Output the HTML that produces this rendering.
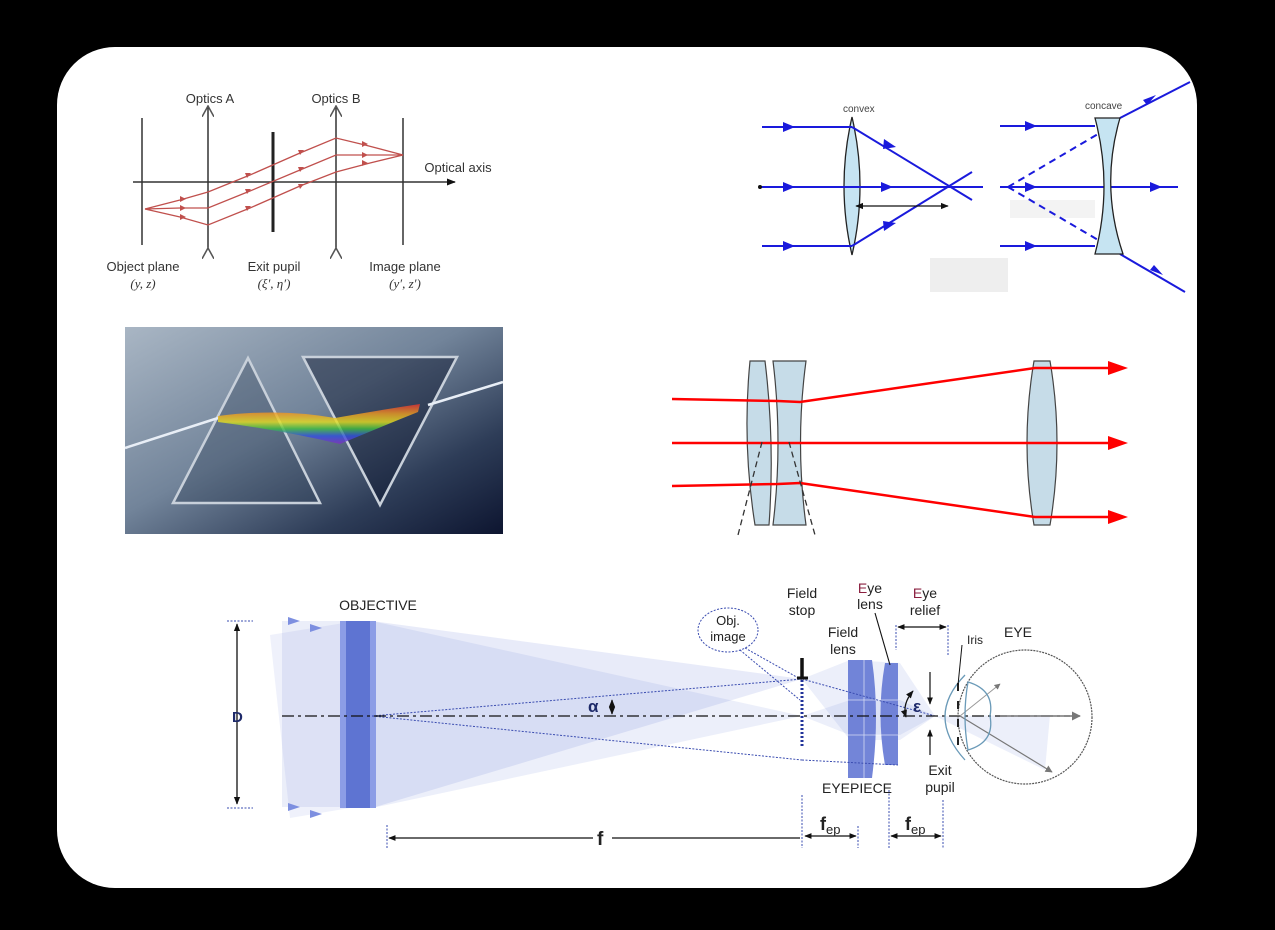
<!DOCTYPE html>
<html><head><meta charset="utf-8"><style>
html,body{margin:0;padding:0;background:#000;}
svg{display:block;font-family:"Liberation Sans",Arial,sans-serif;}
</style></head><body>
<svg width="1275" height="930" viewBox="0 0 1275 930" xmlns="http://www.w3.org/2000/svg">
<defs>
<marker id="bk" viewBox="0 0 10 10" refX="9" refY="5" markerWidth="6" markerHeight="6" orient="auto-start-reverse"><path d="M0,1 L10,5 L0,9z" fill="#111"/></marker>
<marker id="open" viewBox="0 0 10 10" refX="9" refY="5" markerWidth="8" markerHeight="8" orient="auto"><path d="M0,0 L9,5 L0,10" fill="none" stroke="#555" stroke-width="1.3"/></marker>
<marker id="gr" viewBox="0 0 10 10" refX="9" refY="5" markerWidth="6" markerHeight="6" orient="auto"><path d="M0,0 L10,5 L0,10z" fill="#777"/></marker>
<linearGradient id="pbg" x1="0" y1="0" x2="1" y2="1"><stop offset="0" stop-color="#a9b6c4"/><stop offset="0.45" stop-color="#72849a"/><stop offset="0.75" stop-color="#2e3d58"/><stop offset="1" stop-color="#0d1530"/></linearGradient>
<linearGradient id="rb" x1="0" y1="0" x2="0" y2="1"><stop offset="0" stop-color="#e53030"/><stop offset="0.25" stop-color="#f0a020"/><stop offset="0.45" stop-color="#e8e020"/><stop offset="0.62" stop-color="#40c040"/><stop offset="0.8" stop-color="#3050e0"/><stop offset="1" stop-color="#8030c0"/></linearGradient>
</defs>
<rect x="0" y="0" width="1275" height="930" fill="#000"/>
<rect x="57" y="47" width="1140" height="841" rx="58" fill="#fff"/>

<!-- Panel 1 -->
<g stroke="#333" stroke-width="1.5" fill="none">
<line x1="133" y1="182" x2="455" y2="182" marker-end="url(#bk)"/>
<line x1="142" y1="118" x2="142" y2="245"/>
<line x1="403" y1="118" x2="403" y2="245"/>
<line x1="208" y1="248" x2="208" y2="106" marker-end="url(#open)" marker-start="url(#open)"/>
<line x1="336" y1="248" x2="336" y2="106" marker-end="url(#open)" marker-start="url(#open)"/>
<line x1="273" y1="132" x2="273" y2="232" stroke-width="3" stroke="#222"/>
</g>
<g stroke="#c0504d" stroke-width="1.3" fill="none">
<polyline points="145,209 180,200 208,192 250,175 300,153 336,138 365,145 403,155" />
<polyline points="145,209 180,208 208,208 250,191 300,170 336,155 370,155 403,155"/>
<polyline points="145,209 180,217 208,225 250,208 300,186 336,172 370,163 403,155"/>
</g>
<g fill="#c0504d">
<path d="M180,196 l6,3 -6,3z"/><path d="M180,205 l6,3 -6,3z"/><path d="M180,214 l6,3 -6,3z"/>
<path d="M245,173 l6,0 -4,5z"/><path d="M245,189 l6,0 -4,5z"/><path d="M245,206 l6,0 -4,5z"/>
<path d="M298,150 l6,0 -4,5z"/><path d="M298,167 l6,0 -4,5z"/><path d="M298,184 l6,0 -4,5z"/>
<path d="M362,141 l6,3 -6,3z"/><path d="M362,152 l6,3 -6,3z"/><path d="M362,160 l6,3 -6,3z"/>
</g>
<g font-size="13" fill="#333" text-anchor="middle">
<text x="210" y="103">Optics A</text><text x="336" y="103">Optics B</text>
<text x="143" y="271">Object plane</text><text x="143" y="288" font-family="Liberation Serif" font-style="italic">(y, z)</text>
<text x="274" y="271">Exit pupil</text><text x="274" y="288" font-family="Liberation Serif" font-style="italic">(ξ′, η′)</text>
<text x="405" y="271">Image plane</text><text x="405" y="288" font-family="Liberation Serif" font-style="italic">(y′, z′)</text>
<text x="458" y="172">Optical axis</text>
</g>

<!-- Panel 2 -->
<rect x="930" y="258" width="78" height="34" fill="#eee"/>
<rect x="1010" y="200" width="85" height="18" fill="#f3f3f3"/>
<path d="M852,117 Q836,186 852,255 Q868,186 852,117z" fill="#c6e4f2" stroke="#222" stroke-width="1.3"/>
<g stroke="#1a1adc" stroke-width="2" fill="none">
<line x1="762" y1="127" x2="852" y2="127"/><line x1="852" y1="127" x2="972" y2="200"/>
<line x1="760" y1="187" x2="983" y2="187"/>
<line x1="762" y1="246" x2="852" y2="246"/><line x1="852" y1="246" x2="972" y2="172"/>
<line x1="1000" y1="126" x2="1095" y2="126"/><line x1="1120" y1="118" x2="1190" y2="82"/>
<line x1="1000" y1="187" x2="1178" y2="187"/>
<line x1="1000" y1="246" x2="1095" y2="246"/><line x1="1120" y1="254" x2="1185" y2="292"/>
<line x1="1008" y1="187" x2="1115" y2="124" stroke-dasharray="7,5"/>
<line x1="1008" y1="187" x2="1110" y2="247" stroke-dasharray="7,5"/>
</g>
<g fill="#1a1adc">
<path d="M783,122 l12,5 -12,5z"/><path d="M783,182 l12,5 -12,5z"/><path d="M783,241 l12,5 -12,5z"/>
<path d="M881,182 l12,5 -12,5z"/><path d="M884,139 l12,8 -13,2z"/><path d="M884,231 l12,-8 -13,-2z"/>
<path d="M1025,121 l12,5 -12,5z"/><path d="M1025,182 l12,5 -12,5z"/><path d="M1025,241 l12,5 -12,5z"/>
<path d="M1150,182 l12,5 -12,5z"/><path d="M1143,100 l13,-5 -9,10z"/><path d="M1150,270 l13,5 -9,-10z"/>
</g>
<circle cx="760" cy="187" r="2" fill="#111"/>
<path d="M1095,118 L1120,118 Q1100,186 1123,254 L1095,254 Q1113,186 1095,118z" fill="#c6e4f2" stroke="#222" stroke-width="1.3"/>
<line x1="856" y1="206" x2="948" y2="206" stroke="#111" stroke-width="1.3" marker-end="url(#bk)" marker-start="url(#bk)"/>
<text x="843" y="112" font-size="10" fill="#444">convex</text>
<text x="1085" y="109" font-size="10" fill="#444">concave</text>

<!-- Panel 3 prism -->
<rect x="125" y="327" width="378" height="207" fill="url(#pbg)"/>
<path d="M248,358 L173,503 L320,503z" fill="rgba(40,55,80,0.3)" stroke="#c8d0da" stroke-width="2.5"/>
<path d="M303,357 L457,357 L380,505z" fill="rgba(10,20,45,0.45)" stroke="#c8d0da" stroke-width="2.5"/>
<line x1="125" y1="448" x2="218" y2="418" stroke="#e8eef6" stroke-width="2.5"/>
<line x1="428" y1="405" x2="503" y2="382" stroke="#e8eef6" stroke-width="2.5"/>
<path d="M218,416 Q280,408 335,418 Q380,410 420,404 L418,412 Q378,428 340,444 Q280,430 218,422z" fill="url(#rb)" opacity="0.8"/>

<!-- Panel 4 -->
<path d="M750,361 L765,361 Q775,443 769,525 L755,525 Q742,443 750,361z" fill="#c6dce8" stroke="#444" stroke-width="1.2"/>
<path d="M773,361 L806,361 Q795,443 806,525 L773,525 Q783,443 773,361z" fill="#c6dce8" stroke="#444" stroke-width="1.2"/>
<path d="M1034,361 L1050,361 Q1064,443 1050,525 L1034,525 Q1020,443 1034,361z" fill="#c6dce8" stroke="#444" stroke-width="1.2"/>
<g stroke="#f00" stroke-width="2.5" fill="none">
<polyline points="672,399 778,401 800,402 1035,368 1112,368"/>
<line x1="672" y1="443" x2="1112" y2="443"/>
<polyline points="672,486 778,484 800,483 1035,517 1112,517"/>
</g>
<g fill="#f00"><path d="M1108,361 l20,7 -20,7z"/><path d="M1108,436 l20,7 -20,7z"/><path d="M1108,510 l20,7 -20,7z"/></g>
<g stroke="#333" stroke-width="1.3" stroke-dasharray="6,4"><line x1="762" y1="442" x2="738" y2="535"/><line x1="789" y1="442" x2="815" y2="535"/></g>

<!-- Panel 5 telescope -->
<g fill="#6478d4">
<polygon points="282,621 355,621 355,807 282,807" opacity="0.13"/>
<polygon points="270,635 350,622 350,808 290,818" opacity="0.1"/>
<polygon points="372,621 372,808 802,679" opacity="0.15"/>
<polygon points="372,621 372,808 802,716" opacity="0.12"/>
<polygon points="802,679 850,660 900,663 935,716 900,740 850,740" opacity="0.12"/>
<polygon points="802,716 850,700 900,700 935,716 900,735 850,735" opacity="0.12"/>
<polygon points="935,716 1050,715 1045,770" opacity="0.12"/>
</g>
<g fill="#7d8fe0"><path d="M288,617 l12,4 -12,4z"/><path d="M310,624 l12,4 -12,4z"/><path d="M288,803 l12,4 -12,4z"/><path d="M310,810 l12,4 -12,4z"/></g>
<rect x="340" y="621" width="36" height="187" fill="#8c9de6"/>
<rect x="346" y="621" width="24" height="187" fill="#5e74d2"/>
<path d="M848,660 L872,660 Q880,715 872,778 L848,778z" fill="#6478d4" opacity="0.9"/>
<path d="M885,663 L898,663 L898,765 L885,765 Q876,714 885,663z" fill="#6478d4" opacity="0.9"/>
<g stroke="#fff" stroke-width="0.8" opacity="0.7"><line x1="864" y1="660" x2="864" y2="778"/><line x1="848" y1="700" x2="898" y2="700"/><line x1="848" y1="735" x2="898" y2="735"/></g>
<g stroke="#3a4cb0" stroke-width="1" stroke-dasharray="2,1.5" fill="none">
<line x1="372" y1="716" x2="802" y2="679"/><line x1="372" y1="716" x2="802" y2="760"/>
<line x1="802" y1="679" x2="935" y2="716"/><line x1="802" y1="760" x2="898" y2="765"/>
<line x1="227" y1="621" x2="253" y2="621"/><line x1="227" y1="808" x2="253" y2="808"/>
<line x1="387" y1="825" x2="387" y2="848"/><line x1="802" y1="795" x2="802" y2="848"/>
<line x1="858" y1="826" x2="858" y2="848"/><line x1="889" y1="790" x2="889" y2="848"/><line x1="943" y1="800" x2="943" y2="848"/>
<line x1="896" y1="625" x2="896" y2="650"/><line x1="948" y1="625" x2="948" y2="655"/>
<ellipse cx="728" cy="630" rx="30" ry="22"/>
<line x1="745" y1="648" x2="802" y2="680"/><line x1="740" y1="650" x2="800" y2="700"/>
</g>
<line x1="802" y1="680" x2="802" y2="748" stroke="#22339a" stroke-width="3" stroke-dasharray="2,2"/>
<line x1="802" y1="658" x2="802" y2="678" stroke="#111" stroke-width="3.5"/>
<line x1="797" y1="678" x2="808" y2="678" stroke="#111" stroke-width="3"/>
<line x1="282" y1="716" x2="1070" y2="716" stroke="#111" stroke-width="1.2" stroke-dasharray="12,4,3,4"/>
<line x1="1000" y1="716" x2="1080" y2="716" stroke="#777" stroke-width="1.5" marker-end="url(#gr)"/>
<line x1="960" y1="716" x2="1052" y2="772" stroke="#777" stroke-width="1.2" marker-end="url(#gr)"/>
<line x1="960" y1="716" x2="1000" y2="684" stroke="#999" stroke-width="1" marker-end="url(#gr)"/>
<circle cx="1025" cy="717" r="67" fill="none" stroke="#555" stroke-width="1.2" stroke-dasharray="2,1"/>
<path d="M965,675 Q925,716 965,760" fill="none" stroke="#6a9ab8" stroke-width="1.3"/>
<path d="M968,682 Q995,690 990,716 Q995,742 968,750 Q962,716 968,682z" fill="none" stroke="#6a9ab8" stroke-width="1.3"/>
<line x1="958" y1="683" x2="958" y2="752" stroke="#222" stroke-width="2" stroke-dasharray="8,10"/>
<line x1="237" y1="624" x2="237" y2="804" stroke="#111" stroke-width="1.3" marker-end="url(#bk)" marker-start="url(#bk)"/>
<line x1="389" y1="838" x2="593" y2="838" stroke="#111" stroke-width="1.2" marker-start="url(#bk)"/>
<line x1="612" y1="838" x2="800" y2="838" stroke="#111" stroke-width="1.2"/>
<line x1="805" y1="836" x2="856" y2="836" stroke="#111" stroke-width="1.2" marker-end="url(#bk)" marker-start="url(#bk)"/>
<line x1="891" y1="836" x2="941" y2="836" stroke="#111" stroke-width="1.2" marker-end="url(#bk)" marker-start="url(#bk)"/>
<line x1="898" y1="627" x2="946" y2="627" stroke="#111" stroke-width="1.2" marker-end="url(#bk)" marker-start="url(#bk)"/>
<line x1="612" y1="700" x2="612" y2="714" stroke="#111" stroke-width="1.3" marker-end="url(#bk)" marker-start="url(#bk)"/>
<path d="M913,691 Q902,704 906,717" fill="none" stroke="#111" stroke-width="1.3" marker-end="url(#bk)" marker-start="url(#bk)"/>
<line x1="930" y1="672" x2="930" y2="704" stroke="#111" stroke-width="1.2" marker-end="url(#bk)"/>
<line x1="930" y1="755" x2="930" y2="730" stroke="#111" stroke-width="1.2" marker-end="url(#bk)"/>
<line x1="875" y1="613" x2="890" y2="665" stroke="#111" stroke-width="1.1"/>
<line x1="958" y1="685" x2="962" y2="645" stroke="#111" stroke-width="1"/>
<g font-size="14" fill="#222" text-anchor="middle">
<text x="378" y="610">OBJECTIVE</text>
<text x="802" y="598">Field</text><text x="802" y="615">stop</text>
<text x="843" y="637">Field</text><text x="843" y="654">lens</text>
<text x="870" y="593"><tspan fill="#8b2040">E</tspan>ye</text><text x="870" y="609">lens</text>
<text x="925" y="598"><tspan fill="#8b2040">E</tspan>ye</text><text x="925" y="615">relief</text>
<text x="975" y="644" font-size="12">Iris</text>
<text x="1018" y="637">EYE</text>
<text x="857" y="793">EYEPIECE</text>
<text x="940" y="775">Exit</text><text x="940" y="792">pupil</text>
<text x="728" y="625" font-size="13">Obj.</text><text x="728" y="641" font-size="13">image</text>
</g>
<text x="232" y="722" font-size="15" font-weight="bold" fill="#1e2a6a">D</text>
<text x="588" y="712" font-size="17" font-weight="bold" fill="#1e2a6a">α</text>
<text x="913" y="712" font-size="17" font-weight="bold" fill="#1e2a6a">ε</text>
<text x="597" y="845" font-size="19" font-weight="bold" fill="#222">f</text>
<text x="820" y="830" font-size="18" font-weight="bold" fill="#222">f<tspan font-size="13" font-weight="normal" dy="4">ep</tspan></text>
<text x="905" y="830" font-size="18" font-weight="bold" fill="#222">f<tspan font-size="13" font-weight="normal" dy="4">ep</tspan></text>
</svg>
</body></html>
